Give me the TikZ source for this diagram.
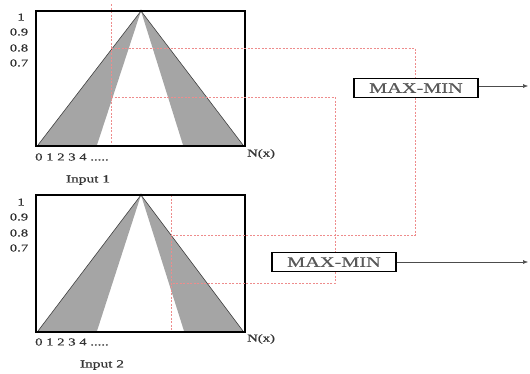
\documentclass[tikz,border=0pt]{standalone}
\usepackage{fontspec}
\usetikzlibrary{arrows.meta}
\newfontfamily\lblfont[FakeStretch=1.4,FakeBold=0.6]{Liberation Serif}
\definecolor{fzgray}{RGB}{165,165,165}
\definecolor{dotred}{RGB}{238,140,140}
\begin{document}
\begin{tikzpicture}[x=1pt,y=-1pt,
  panel/.style={draw=black,line width=1.3pt},
  tri/.style={fill=fzgray},
  ylab/.style={font=\lblfont\fontsize{10.5}{11}\selectfont,text=black!80,inner sep=0pt,anchor=center},
  xlab/.style={font=\lblfont\fontsize{10.5}{11}\selectfont,text=black!80,inner sep=0pt,anchor=west},
  inlab/.style={font=\lblfont\fontsize{11}{12}\selectfont,text=black!80,inner sep=0pt},
  mmbox/.style={draw=black,line width=1.3pt,fill=white,minimum width=124pt,minimum height=19pt,inner sep=0pt,
    font=\lblfont\fontsize{14.5}{15}\selectfont,text=black!65},
  reddot/.style={draw=dotred,line width=0.9pt,dash pattern=on 2pt off 1.5pt},
  outarrow/.style={draw=black!70,line width=0.5pt,-{Latex[length=5pt,width=4pt]}}]
\useasboundingbox (0,0) rectangle (530,373);

% ---------- top panel ----------
\fill[tri] (38,145) -- (141,11) -- (97,145) -- cycle;
\fill[tri] (183,145) -- (141,11) -- (243,145) -- cycle;
\draw[black!75,line width=0.6pt] (38,145) -- (141,11) -- (243,145);
\draw[reddot] (111,4) -- (111,143);
\draw[panel] (36,11) rectangle (245,146);
\fill (141,11) circle (1.4pt);

% ---------- bottom panel ----------
\fill[tri] (38,331) -- (141,195) -- (97,331) -- cycle;
\fill[tri] (184,331) -- (141,195) -- (243,331) -- cycle;
\draw[black!75,line width=0.6pt] (38,331) -- (141,195) -- (243,331);
\draw[reddot] (171,195) -- (171,330);
\draw[panel] (36,195) rectangle (245,332);
\fill (141,195) circle (1.4pt);

% ---------- red connecting lines ----------
\coordinate (a1) at (111,48);
\coordinate (a2) at (415,48);
\coordinate (a3) at (415,235);
\coordinate (a4) at (171,235);
\coordinate (b1) at (111,97);
\coordinate (b2) at (335,97);
\coordinate (b3) at (335,283);
\coordinate (b4) at (171,283);
\draw[reddot] (a1) -- (a2) -- (a3) -- (a4);
\draw[reddot] (b1) -- (b2) -- (b3) -- (b4);

% ---------- y labels ----------
\node[ylab] (t1) at (21,17) {1};
\node[ylab] (t9) at (19,32) {0.9};
\node[ylab] (t8) at (19,48) {0.8};
\node[ylab] (t7) at (19,63) {0.7};
\node[ylab] (u1) at (21,202) {1};
\node[ylab] (u9) at (19,217) {0.9};
\node[ylab] (u8) at (19,233) {0.8};
\node[ylab] (u7) at (19,248) {0.7};

% ---------- x labels ----------
\node[xlab] (tx) at (35,157) {0 1 2 3 4 .....};
\node[xlab] (bx) at (35,342) {0 1 2 3 4 .....};
\node[xlab] (tn) at (247,154) {N(x)};
\node[xlab] (bn) at (247,339) {N(x)};
\node[inlab] (in1) at (88,180) {Input 1};
\node[inlab] (in2) at (102,365) {Input 2};

% ---------- MAX-MIN boxes ----------
\node[mmbox] (m1) at (416,88) {MAX-MIN};
\node[mmbox] (m2) at (334,262) {MAX-MIN};
\coordinate (o1) at (528,86);
\coordinate (o2) at (528,262);
\draw[outarrow] (m1.east |- o1) -- (o1);
\draw[outarrow] (m2.east) -- (o2);
\end{tikzpicture}
\end{document}
